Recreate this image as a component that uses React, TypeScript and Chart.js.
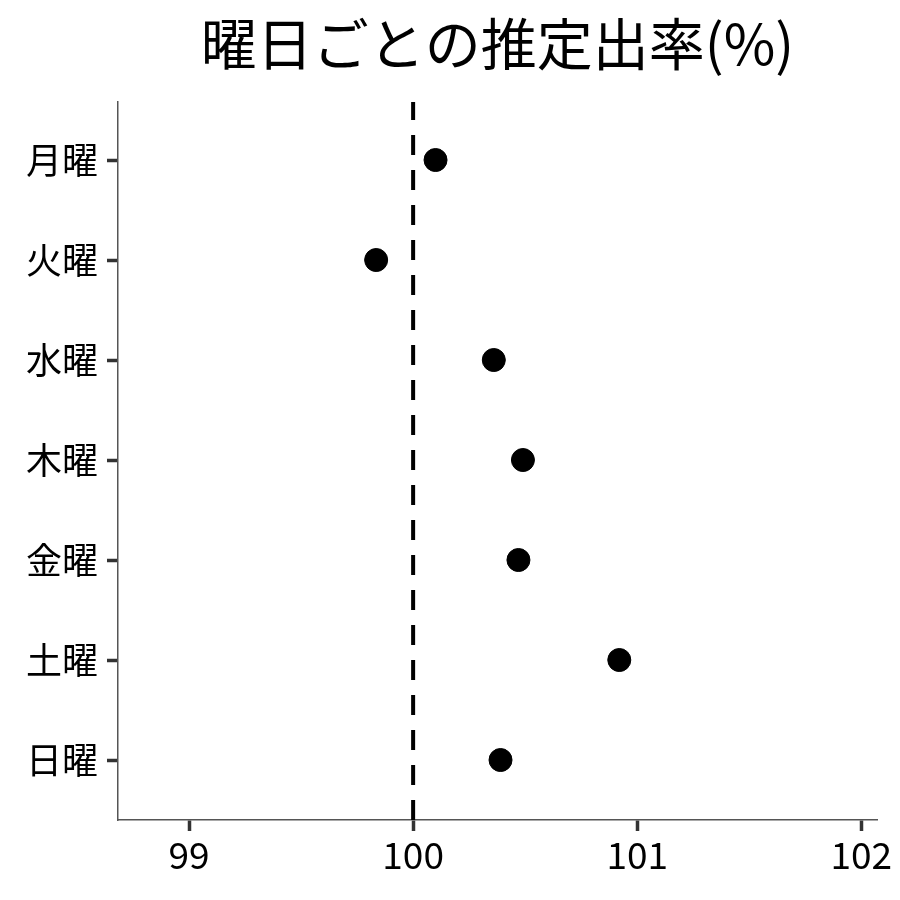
import React, { useEffect, useRef } from 'react';
import { Chart, registerables } from 'chart.js';

Chart.register(...registerables);

// data
const days = ['月曜', '火曜', '水曜', '木曜', '金曜', '土曜', '日曜'];
const rates = [100.1, 99.835, 100.36, 100.49, 100.47, 100.92, 100.39];
const xTicks = [99, 100, 101, 102];
const refValue = 100;
const titleText = '曜日ごとの推定出率(%)';

const FONT = '"Noto Sans CJK JP", "Noto Sans", sans-serif';

const Y_MIN = -0.58;
const Y_MAX = 6.6;

// title drawn over the plot area centre, like the reference
const titlePlugin = {
  id: 'areaTitle',
  afterDraw(chart: Chart) {
    const { ctx, chartArea } = chart;
    ctx.save();
    ctx.font = `56px ${FONT}`;
    ctx.fillStyle = '#000';
    ctx.textAlign = 'center';
    ctx.textBaseline = 'middle';
    ctx.fillText(titleText, (chartArea.left + chartArea.right) / 2, 44);
    ctx.restore();
  },
};

const App: React.FC = () => {
  const canvasRef = useRef<HTMLCanvasElement>(null);

  useEffect(() => {
    const ctx = canvasRef.current?.getContext('2d');
    if (!ctx) return;

    const chart = new Chart(ctx, {
      type: 'scatter',
      data: {
        datasets: [
          {
            type: 'line',
            data: [
              { x: refValue, y: Y_MAX },
              { x: refValue, y: Y_MIN },
            ],
            borderColor: '#000',
            borderWidth: 4,
            borderDash: [20, 15],
            pointRadius: 0,
            fill: false,
          },
          {
            data: rates.map((v, i) => ({ x: v, y: i })),
            backgroundColor: '#000',
            borderColor: '#000',
            pointRadius: 11.5,
          },
        ],
      },
      options: {
        responsive: false,
        animation: false,
        layout: { padding: { top: 102, left: 0, right: 23, bottom: 0 } },
        plugins: {
          legend: { display: false },
          tooltip: { enabled: false },
          title: { display: false },
        },
        scales: {
          x: {
            type: 'linear',
            min: 98.683,
            max: 102.07,
            afterBuildTicks: (scale: any) => {
              scale.ticks = xTicks.map((v) => ({ value: v }));
            },
            afterFit: (scale: any) => {
              scale.height = 80;
            },
            grid: {
              drawOnChartArea: false,
              drawTicks: true,
              tickLength: 11,
              tickWidth: 3.5,
              tickColor: '#333',
            },
            border: { display: true, color: '#555', width: 1.5 },
            ticks: {
              color: '#000',
              font: { family: FONT, size: 37 },
              padding: 2,
              maxRotation: 0,
            },
          },
          y: {
            type: 'linear',
            reverse: true,
            min: Y_MIN,
            max: Y_MAX,
            afterBuildTicks: (scale: any) => {
              scale.ticks = days.map((_, i) => ({ value: i }));
            },
            afterFit: (scale: any) => {
              scale.width = 118;
            },
            grid: {
              drawOnChartArea: false,
              drawTicks: true,
              tickLength: 11,
              tickWidth: 3.5,
              tickColor: '#333',
            },
            border: { display: true, color: '#555', width: 1.5 },
            ticks: {
              color: '#000',
              font: { family: FONT, size: 36 },
              padding: 9,
              callback: (v: string | number) => days[Number(v)] ?? '',
            },
          },
        },
      },
      plugins: [titlePlugin],
    });

    return () => {
      chart.destroy();
    };
  }, []);

  return (
    <div style={{ position: 'fixed', left: 0, top: 0, width: 900, height: 900, background: '#fff' }}>
      <canvas ref={canvasRef} width={900} height={900} />
    </div>
  );
};

export default App;
